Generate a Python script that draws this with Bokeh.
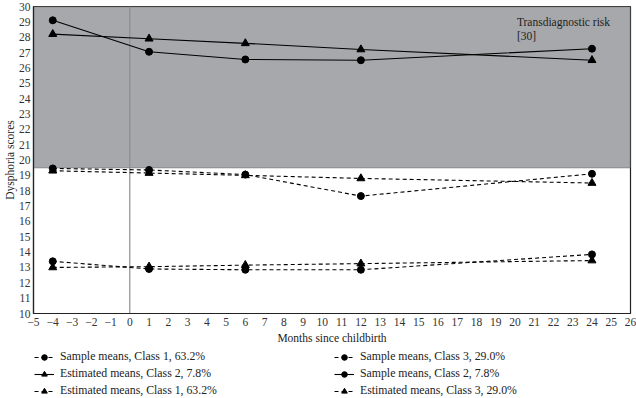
from bokeh.plotting import figure
from bokeh.layouts import column
from bokeh.models import (BoxAnnotation, Span, Label, Legend, LegendItem,
                          FixedTicker, ColumnDataSource, Range1d)
from bokeh.embed import file_html
from bokeh.resources import INLINE

# Months since childbirth at each assessment
months = [-4, 1, 6, 12, 24]

# Dysphoria scores per latent class
class1_sample = [13.4, 12.9, 12.85, 12.85, 13.85]
class1_estimated = [13.0, 13.05, 13.15, 13.25, 13.45]
class2_sample = [29.1, 27.05, 26.55, 26.5, 27.25]
class2_estimated = [28.2, 27.9, 27.6, 27.2, 26.5]
class3_sample = [19.45, 19.35, 19.05, 17.65, 19.1]
class3_estimated = [19.3, 19.15, 19.0, 18.8, 18.5]

risk_threshold = 19.5
x_ticks = list(range(-5, 27))
y_ticks = list(range(10, 31))
x_tick_labels = {t: (f"\u2212{abs(t)}" if t < 0 else str(t)) for t in x_ticks}

FONT = "Liberation Serif"
FONT_SIZE = "11.5px"

p = figure(width=636, height=346, x_range=(-5, 26), y_range=(10, 30),
           output_backend="svg", toolbar_location=None,
           min_border_left=0, min_border_right=6, min_border_top=6,
           min_border_bottom=0)
p.grid.visible = False
p.background_fill_color = "white"
p.outline_line_color = "#222222"
p.outline_line_width = 1.2

# Shaded zone above the transdiagnostic risk cut-off
p.add_layout(BoxAnnotation(bottom=risk_threshold, fill_color="#a6a8ab",
                           fill_alpha=1.0, line_color="#333333",
                           line_width=1.6, level="underlay"))
p.add_layout(Span(location=0, dimension="height", line_color="#8c8e90",
                  line_width=1.2, level="underlay"))
p.add_layout(Label(x=20.1, y=29.4, text="Transdiagnostic risk\n[30]",
                   text_font=FONT, text_font_size=FONT_SIZE,
                   text_color="#222222", text_baseline="top"))

# Strip under the chart that carries the two-column legend; its ranges lie
# outside the data so only the legend swatches show there
leg_fig = figure(width=636, height=52, x_range=Range1d(100, 101),
                 y_range=Range1d(100, 101), output_backend="svg",
                 toolbar_location=None, x_axis_location=None,
                 y_axis_location=None, min_border=0)
leg_fig.grid.visible = False
leg_fig.outline_line_color = None


def series(ys, marker, dashed):
    src = ColumnDataSource(dict(x=months, y=ys))
    dash = "4 3" if dashed else "solid"
    size = 7 if marker == "circle" else 8
    line_kw = dict(line_color="black", line_width=1.1, line_dash=dash)
    mark_kw = dict(marker=marker, size=size, fill_color="black",
                   line_color="black")
    p.line("x", "y", source=src, **line_kw)
    p.scatter("x", "y", source=src, **mark_kw)
    return [leg_fig.line("x", "y", source=src, **line_kw),
            leg_fig.scatter("x", "y", source=src, **mark_kw)]


r_s1 = series(class1_sample, "circle", True)
r_e1 = series(class1_estimated, "triangle", True)
r_s2 = series(class2_sample, "circle", False)
r_e2 = series(class2_estimated, "triangle", False)
r_s3 = series(class3_sample, "circle", True)
r_e3 = series(class3_estimated, "triangle", True)

# Axes
p.xaxis.ticker = FixedTicker(ticks=x_ticks)
p.xaxis.major_label_overrides = x_tick_labels
p.yaxis.ticker = FixedTicker(ticks=y_ticks)
for ax in (p.xaxis, p.yaxis):
    ax.major_tick_line_color = None
    ax.minor_tick_line_color = None
    ax.major_tick_out = 0
    ax.major_tick_in = 0
    ax.axis_line_color = "#222222"
    ax.axis_line_width = 1.2
    ax.major_label_text_font = FONT
    ax.major_label_text_font_size = FONT_SIZE
    ax.major_label_text_color = "#333333"
    ax.axis_label_text_font = FONT
    ax.axis_label_text_font_size = FONT_SIZE
    ax.axis_label_text_font_style = "normal"
    ax.axis_label_text_color = "#222222"
p.xaxis.axis_label = "Months since childbirth"
p.yaxis.axis_label = "Dysphoria scores"
p.xaxis.major_label_standoff = 4
p.xaxis.axis_label_standoff = 3
p.yaxis.major_label_standoff = 3
p.yaxis.axis_label_standoff = 0

legend = Legend(
    items=[LegendItem(label="Sample means, Class 1, 63.2%", renderers=r_s1),
           LegendItem(label="Sample means, Class 3, 29.0%", renderers=r_s3),
           LegendItem(label="Estimated means, Class 2, 7.8%", renderers=r_e2),
           LegendItem(label="Sample means, Class 2, 7.8%", renderers=r_s2),
           LegendItem(label="Estimated means, Class 1, 63.2%", renderers=r_e1),
           LegendItem(label="Estimated means, Class 3, 29.0%", renderers=r_e3)],
    orientation="horizontal", ncols=2, location=(1, 0),
    label_text_font=FONT, label_text_font_size="11.8px",
    label_text_color="#222222", glyph_width=20, glyph_height=14,
    label_height=14, label_width=272, spacing=2, padding=0, margin=0,
    label_standoff=6, background_fill_alpha=0.0, border_line_color=None)
leg_fig.add_layout(legend, "center")

page = column(p, leg_fig, spacing=0)

open("out.html", "w").write(file_html(page, INLINE))
